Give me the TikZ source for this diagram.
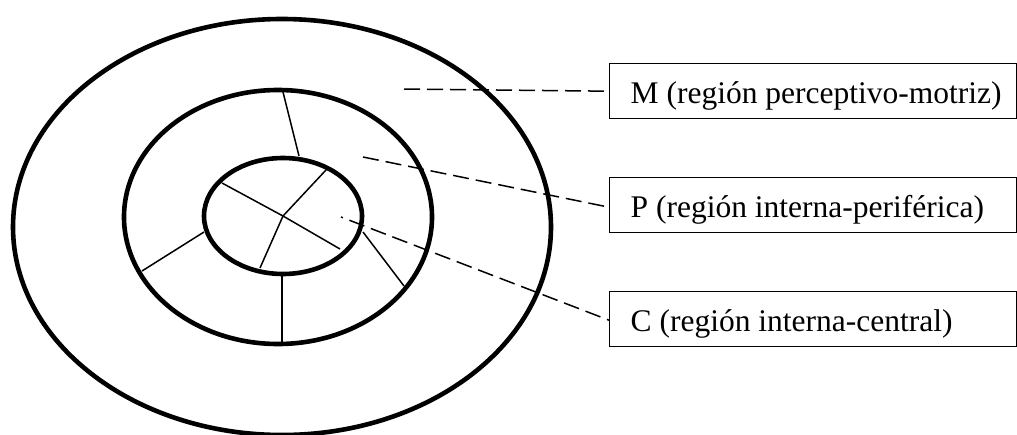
\documentclass[tikz,border=0pt]{standalone}
\usepackage{fontspec}
\setmainfont{Liberation Serif}
\begin{document}
\begin{tikzpicture}[x=1pt,y=-1pt,
  ring/.style={line width=4.6pt},
  spoke/.style={line width=1.5pt},
  leader/.style={line width=1.5pt, dash pattern=on 16pt off 7pt},
  labelbox/.style={draw, line width=1.4pt, anchor=north west, inner xsep=21pt, inner ysep=0pt,
    text height=40pt, text depth=15pt, font=\fontsize{31.5}{36}\selectfont}]
\useasboundingbox (0,0) rectangle (1017,434);
% rings
\draw[ring] (282,227) ellipse [x radius=269pt, y radius=208pt];
\draw[ring] (278,217) ellipse [x radius=154pt, y radius=127pt];
\draw[ring] (283,216) ellipse [x radius=79pt, y radius=58pt];
% spokes in middle ring
\draw[spoke] (283,92) -- (299,156);
\draw[spoke] (142,271) -- (204,232);
\draw[spoke] (282,275) -- (282,343);
\draw[spoke] (363,232) -- (404,286);
% spokes in inner ring
\coordinate (cen) at (283,216);
\draw[spoke] (222,183) -- (cen) -- (340,249);
\draw[spoke] (cen) -- (326,170);
\draw[spoke] (cen) -- (260,268);
% label boxes
\node[labelbox] (M) at (609,63) {\makebox[365pt][l]{M (región perceptivo-motriz)}};
\node[labelbox] (P) at (609,177) {\makebox[365pt][l]{P (región interna-periférica)}};
\node[labelbox] (C) at (609,291) {\makebox[365pt][l]{C (región interna-central)}};
% leaders
\coordinate (mM) at (404,89);
\coordinate (mP) at (363,157);
\coordinate (mC) at (341,217);
\draw[leader] (mM) -- (M.west);
\draw[leader] (mP) -- ([yshift=-2pt]P.west);
\draw[leader, dash phase=14pt] (mC) -- ([yshift=-1pt]C.west);
\end{tikzpicture}
\end{document}
